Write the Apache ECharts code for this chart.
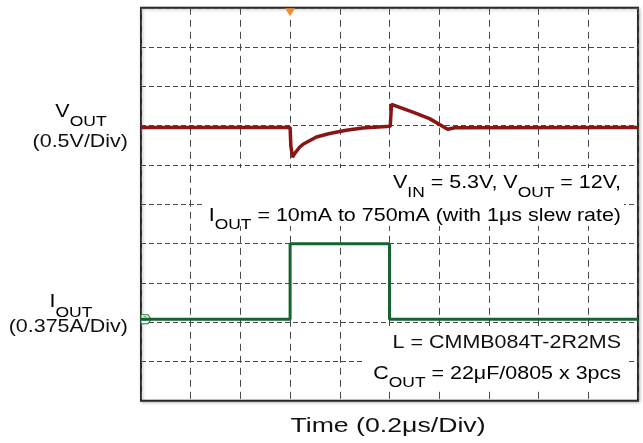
<!DOCTYPE html>
<html>
<head>
<meta charset="utf-8">
<script src="https://cdn.jsdelivr.net/npm/echarts@6/dist/echarts.min.js"></script>
<style>
html,body{margin:0;padding:0;background:#fff;}
#chart{width:643px;height:443px;}
</style>
</head>
<body>
<div id="chart"></div>
<script>
// Time axis (µs), 0.2 µs/div, 10 divisions
const timeTicks = [0, 0.2, 0.4, 0.6, 0.8, 1.0, 1.2, 1.4, 1.6, 1.8, 2.0];
const triggerTime = 0.6;

// VOUT deviation from 12 V (V), 0.5 V/div
const voutTime = [0, 0.600, 0.603, 0.610, 0.618, 0.639, 0.652, 0.706, 0.759, 0.826, 0.892, 0.987, 1.003, 1.008, 1.094, 1.161, 1.234, 1.262, 2.0];
const voutVal  = [-0.024, -0.024, -0.26, -0.400, -0.355, -0.271, -0.237, -0.144, -0.100, -0.059, -0.029, -0.010, -0.008, 0.272, 0.174, 0.090, -0.046, -0.026, -0.024];

// IOUT (A), 0.375 A/div
const ioutTime = [0, 0.600, 0.600, 1.000, 1.000, 2.0];
const ioutVal  = [0.01, 0.01, 0.73, 0.73, 0.01, 0.01];

const voutData = voutTime.map((t, i) => [t, voutVal[i]]);
const ioutData = ioutTime.map((t, i) => [t, ioutVal[i]]);

const FONT = '"Liberation Sans", Arial, sans-serif';
const gridColor = '#4a4a4a';

function richStyles(size, subSize, mainLH, subLH) {
  return {
    n: { fontSize: size, fontFamily: FONT, color: '#111', lineHeight: mainLH, verticalAlign: 'top' },
    s: { fontSize: subSize, fontFamily: FONT, color: '#111', lineHeight: subLH, verticalAlign: 'bottom' }
  };
}

const chart = echarts.init(document.getElementById('chart'), null, { renderer: 'canvas' });

const option = {
  animation: false,
  backgroundColor: '#fff',
  grid: {
    left: 141, top: 7.8, width: 497, height: 393,
    show: true, borderColor: '#2a2a2a', borderWidth: 2,
    backgroundColor: '#fff',
    shadowColor: 'rgba(0,0,0,0.25)', shadowBlur: 3, shadowOffsetX: 1, shadowOffsetY: 1
  },
  xAxis: {
    type: 'value', min: timeTicks[0], max: timeTicks[timeTicks.length - 1], interval: 0.2,
    axisLine: { show: false }, axisTick: { show: false }, axisLabel: { show: false },
    splitLine: { show: true, lineStyle: { color: gridColor, width: 1, type: [7, 5] } }
  },
  yAxis: [
    {
      type: 'value', min: 0, max: 10, interval: 1,
      axisLine: { show: false }, axisTick: { show: false }, axisLabel: { show: false },
      splitLine: { show: true, lineStyle: { color: gridColor, width: 1, type: [5, 3] } }
    },
    { type: 'value', min: -3.5, max: 1.5, show: false, splitLine: { show: false } },
    { type: 'value', min: -0.7675, max: 2.9825, show: false, splitLine: { show: false } }
  ],
  series: [
    {
      name: 'IOUT', type: 'line', yAxisIndex: 2, data: ioutData,
      showSymbol: false, symbol: 'none', z: 20,
      lineStyle: { color: '#156330', width: 3 },
      markPoint: {
        symbol: 'path://M0,0 L7,0 L10,4.5 L7,9 L0,9 Z',
        symbolSize: [10, 9], symbolOffset: [5, 0],
        itemStyle: { color: '#fff', borderColor: '#1d7a3a', borderWidth: 1 },
        label: { show: true, formatter: '2', fontSize: 7, color: '#1d7a3a', fontFamily: FONT, offset: [-1, 0] },
        data: [{ coord: [ioutTime[0], ioutVal[0]] }]
      }
    },
    {
      name: 'VOUT', type: 'line', yAxisIndex: 1, data: voutData,
      showSymbol: false, symbol: 'none', z: 21,
      lineStyle: { color: '#8a1515', width: 3.5 },
      markPoint: {
        symbol: 'triangle', symbolRotate: 180, symbolSize: [10, 8], symbolOffset: [0, 4.5],
        itemStyle: { color: '#f28c2e' },
        label: { show: false },
        data: [{ coord: [triggerTime, 1.5] }]
      }
    }
  ],
  graphic: {
    z: 100,
    elements: [
      { type: 'rect', z: 100, z2: 0, shape: { x: 203, y: 168, width: 421, height: 58 }, style: { fill: '#fff' } },
      { type: 'rect', z: 100, z2: 0, shape: { x: 365, y: 326, width: 261, height: 64 }, style: { fill: '#fff' } },
      // left labels
      { type: 'text', z: 100, z2: 10, x: 81, y: 116, scaleX: 1.13,
        style: { text: '{n|V}{s|OUT}', align: 'center', verticalAlign: 'middle', rich: richStyles(19, 15.5, 20, 28) } },
      { type: 'text', z: 100, z2: 10, x: 128, y: 142, scaleX: 1.13,
        style: { text: '(0.5V/Div)', align: 'right', verticalAlign: 'middle', font: '19px ' + FONT, fill: '#111' } },
      { type: 'text', z: 100, z2: 10, x: 71, y: 306.5, scaleX: 1.13,
        style: { text: '{n|I}{s|OUT}', align: 'center', verticalAlign: 'middle', rich: richStyles(19, 15.5, 20, 28) } },
      { type: 'text', z: 100, z2: 10, x: 128, y: 327, scaleX: 1.13,
        style: { text: '(0.375A/Div)', align: 'right', verticalAlign: 'middle', font: '19px ' + FONT, fill: '#111' } },
      // in-plot annotations
      { type: 'text', z: 100, z2: 10, x: 621, y: 187, scaleX: 1.16,
        style: { text: '{n|V}{s|IN}{n| = 5.3V, V}{s|OUT}{n| = 12V,}', align: 'right', verticalAlign: 'middle', rich: richStyles(18.5, 15, 20, 26.5) } },
      { type: 'text', z: 100, z2: 10, x: 621, y: 219.3, scaleX: 1.16,
        style: { text: '{n|I}{s|OUT}{n| = 10mA to 750mA (with 1μs slew rate)}', align: 'right', verticalAlign: 'middle', rich: richStyles(18.5, 15, 20, 26.5) } },
      { type: 'text', z: 100, z2: 10, x: 621, y: 343, scaleX: 1.16,
        style: { text: 'L = CMMB084T-2R2MS', align: 'right', verticalAlign: 'middle', font: '18.5px ' + FONT, fill: '#111' } },
      { type: 'text', z: 100, z2: 10, x: 621, y: 377.3, scaleX: 1.16,
        style: { text: '{n|C}{s|OUT}{n| = 22μF/0805 x 3pcs}', align: 'right', verticalAlign: 'middle', rich: richStyles(18.5, 15, 20, 26.5) } },
      // x axis title
      { type: 'text', z: 100, z2: 10, x: 388, y: 426, scaleX: 1.27,
        style: { text: 'Time (0.2μs/Div)', align: 'center', verticalAlign: 'middle', font: '21px ' + FONT, fill: '#111' } }
    ]
  }
};

chart.setOption(option);
</script>
</body>
</html>
